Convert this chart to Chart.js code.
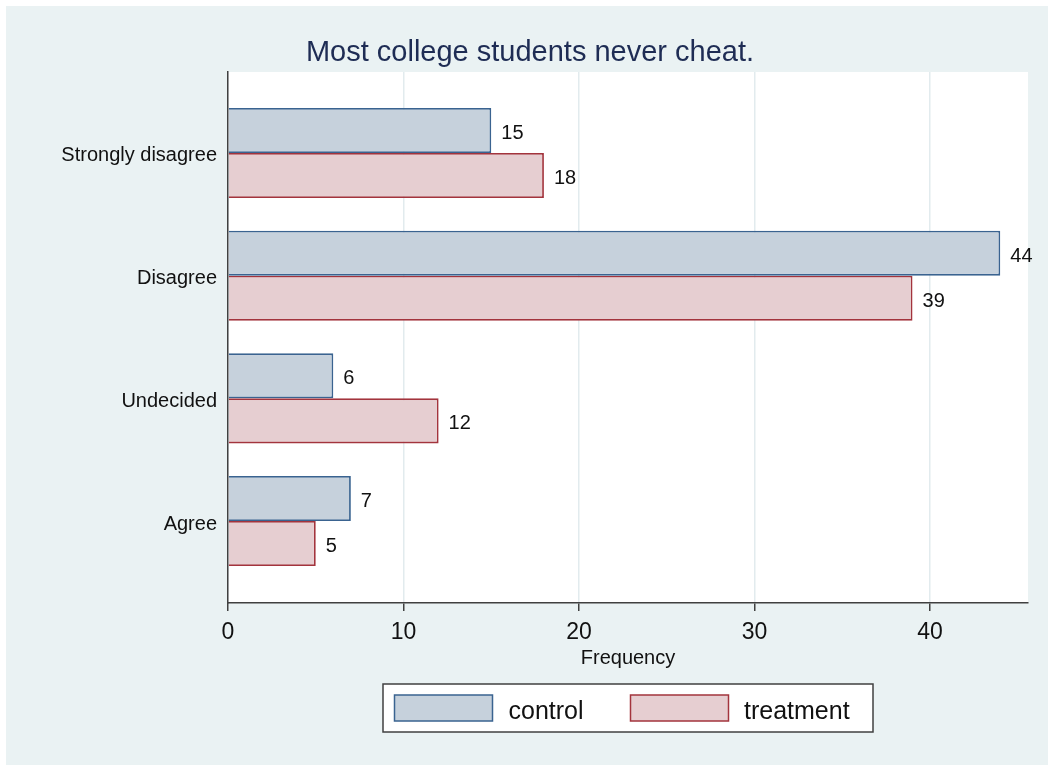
<!DOCTYPE html>
<html>
<head>
<meta charset="utf-8">
<title>Most college students never cheat.</title>
<script src="https://cdn.jsdelivr.net/npm/chart.js@4.4.1/dist/chart.umd.min.js"></script>
<style>
  html, body { margin: 0; padding: 0; background: #ffffff; }
  #wrap { width: 1048px; height: 765px; }
  canvas { display: block; }
</style>
</head>
<body>
<div id="wrap"><canvas id="chart" width="1048" height="765"></canvas></div>
<script>
// Survey responses, top to bottom
const categories = ['Strongly disagree', 'Disagree', 'Undecided', 'Agree'];
const controlCounts = [15, 44, 6, 7];
const treatmentCounts = [18, 39, 12, 5];
const xTicks = [0, 10, 20, 30, 40];
const seriesNames = ['control', 'treatment'];

const titleText = 'Most college students never cheat.';
const xTitleText = 'Frequency';

const FONT = '"Liberation Sans", Arial, Helvetica, sans-serif';
const PANEL_BG = '#eaf2f3';
const INK = '#111111';
const AXIS = '#404040';

const colors = {
  control:   { fill: '#c6d1dc', line: '#3a6390' },
  treatment: { fill: '#e6ced1', line: '#a3343d' }
};

function toPoints(values) {
  return values.map((v, i) => ({ x: v, y: i }));
}

// Background panel, white plot region, title, axis title and legend
const decorations = {
  id: 'decorations',
  beforeDraw(chart) {
    const { ctx, chartArea: a } = chart;
    ctx.save();
    ctx.fillStyle = '#ffffff';
    ctx.fillRect(0, 0, chart.width, chart.height);
    ctx.fillStyle = PANEL_BG;
    ctx.fillRect(6, 6, chart.width - 6, chart.height - 6);
    ctx.fillStyle = '#ffffff';
    ctx.fillRect(a.left, a.top, a.right - a.left, a.bottom - a.top);
    ctx.restore();
  },
  afterDraw(chart) {
    const { ctx, chartArea: a } = chart;
    ctx.save();
    // title
    ctx.fillStyle = '#1e2c54';
    ctx.font = '29px ' + FONT;
    ctx.textAlign = 'center';
    ctx.textBaseline = 'alphabetic';
    ctx.fillText(titleText, 530, 61);

    // x axis title
    ctx.fillStyle = INK;
    ctx.font = '20px ' + FONT;
    ctx.fillText(xTitleText, (a.left + a.right) / 2, 663.5);

    // legend
    const box = { x: 383, y: 684, w: 490, h: 48 };
    ctx.fillStyle = '#ffffff';
    ctx.fillRect(box.x, box.y, box.w, box.h);
    ctx.strokeStyle = AXIS;
    ctx.lineWidth = 1.5;
    ctx.strokeRect(box.x, box.y, box.w, box.h);

    const swatchX = [394.5, 630.5];
    const textX = [508.5, 744];
    chart.data.datasets.forEach((ds, i) => {
      ctx.fillStyle = ds.backgroundColor;
      ctx.fillRect(swatchX[i], 695, 98, 26);
      ctx.strokeStyle = ds.borderColor;
      ctx.lineWidth = 1.5;
      ctx.strokeRect(swatchX[i], 695, 98, 26);
      ctx.fillStyle = INK;
      ctx.font = '25px ' + FONT;
      ctx.textAlign = 'left';
      ctx.fillText(ds.label, textX[i], 719);
    });
    ctx.restore();
  }
};

// Count printed just past the end of every bar
const barValues = {
  id: 'barValues',
  afterDatasetsDraw(chart) {
    const { ctx } = chart;
    ctx.save();
    ctx.fillStyle = INK;
    ctx.font = '20px ' + FONT;
    ctx.textAlign = 'left';
    ctx.textBaseline = 'middle';
    chart.data.datasets.forEach((ds, di) => {
      const meta = chart.getDatasetMeta(di);
      meta.data.forEach((bar, i) => {
        ctx.fillText(String(ds.data[i].x), bar.x + 10, bar.y + 3);
      });
    });
    ctx.restore();
  }
};

new Chart(document.getElementById('chart'), {
  type: 'bar',
  data: {
    datasets: [
      {
        label: seriesNames[0],
        data: toPoints(controlCounts),
        backgroundColor: colors.control.fill,
        borderColor: colors.control.line,
        borderWidth: 1.8
      },
      {
        label: seriesNames[1],
        data: toPoints(treatmentCounts),
        backgroundColor: colors.treatment.fill,
        borderColor: colors.treatment.line,
        borderWidth: 1.8
      }
    ]
  },
  options: {
    responsive: false,
    animation: false,
    indexAxis: 'y',
    categoryPercentage: 0.734,
    barPercentage: 1.0,
    layout: { padding: { top: 72, right: 20, bottom: 0, left: 0 } },
    plugins: {
      legend: { display: false },
      title: { display: false },
      tooltip: { enabled: false }
    },
    scales: {
      x: {
        type: 'linear',
        position: 'bottom',
        min: 0,
        max: 45.58,
        afterBuildTicks(scale) {
          scale.ticks = xTicks.map(v => ({ value: v }));
        },
        afterFit(scale) { scale.height = 162; },
        grid: {
          color: '#e2ebee',
          lineWidth: 1.5,
          drawTicks: true,
          tickLength: 8,
          tickColor: AXIS,
          tickWidth: 1.5
        },
        border: { display: true, color: AXIS, width: 1.5 },
        ticks: {
          color: INK,
          font: { family: FONT, size: 23 },
          padding: 8,
          maxRotation: 0
        }
      },
      y: {
        type: 'linear',
        position: 'left',
        reverse: true,
        offset: false,
        min: -0.66,
        max: 3.668,
        afterBuildTicks(scale) {
          scale.ticks = categories.map((c, i) => ({ value: i }));
        },
        afterFit(scale) { scale.width = 228; },
        grid: { display: false, drawTicks: false, offset: false },
        border: { display: true, color: AXIS, width: 1.5 },
        ticks: {
          color: INK,
          font: { family: FONT, size: 20 },
          padding: 11,
          labelOffset: 3,
          callback: (value) => categories[value]
        }
      }
    }
  },
  plugins: [decorations, barValues]
});
</script>
</body>
</html>
